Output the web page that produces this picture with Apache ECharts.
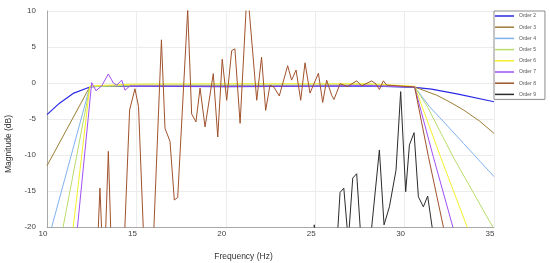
<!DOCTYPE html>
<html>
<head>
<meta charset="utf-8">
<script src="https://cdn.jsdelivr.net/npm/echarts@6/dist/echarts.min.js"></script>
<style>
html,body{margin:0;padding:0;background:#fff;}
#chart{width:550px;height:263px;}
</style>
</head>
<body>
<div id="chart"></div>
<script>
// Series names
const seriesNames = ['Order 2','Order 3','Order 4','Order 5','Order 6','Order 7','Order 8','Order 9'];
// Axis ticks
const xTicks = [10, 15, 20, 25, 30, 35];
const yTicks = [-20, -15, -10, -5, 0, 5, 10];

// [frequency (Hz), magnitude (dB)]
const order2 = [[10,-4.4],[10.7,-2.8],[11.5,-1.4],[12.4,-0.55],[13,-0.45],[15,-0.45],[20,-0.5],[25,-0.45],[28,-0.4],[30.56,-0.6],[31.5,-0.85],[33,-1.55],[35,-2.6]];
const order3 = [[10,-11.5],[12.4,-0.5],[15,-0.35],[20,-0.35],[25,-0.35],[28,-0.3],[30.56,-0.55],[31.8,-1.7],[32.5,-2.6],[33.3,-3.75],[34.2,-5.3],[35,-7.0]];
const order4 = [[10,-22.4],[12.4,-0.5],[15,-0.3],[20,-0.3],[25,-0.3],[28,-0.3],[30.56,-0.55],[31.4,-3.3],[32.3,-5.7],[33.3,-8.4],[35,-13]];
const order5 = [[10,-31.7],[12.4,-0.5],[15,-0.3],[20,-0.3],[25,-0.3],[28,-0.25],[30.56,-0.5],[31.3,-3.4],[32.7,-10.2],[35,-20.3]];
const order6 = [[10,-50.8],[12.4,-0.4],[15,-0.15],[20,-0.1],[25,-0.1],[28,-0.1],[30.56,-0.45],[32,-10.2],[33.5,-20],[34,-24]];
const order7 = [[10,-63],[12.5,0.05],[12.74,-1.07],[13.06,-0.4],[13.43,1.25],[13.71,0],[13.9,-0.3],[14.18,0.4],[14.36,-1.0],[14.64,-0.4],[15,-0.4],[20,-0.45],[25,-0.4],[28,-0.35],[30.56,-0.55],[31.6,-10.2],[32.7,-20],[33,-23]];
const order8 = [[10,-80],[12.5,-45],[12.74,-27.8],[12.96,-14.6],[13.18,-27.8],[13.43,-9.5],[13.66,-28],[13.95,-45],[14.62,-3.75],[14.92,-0.8],[15.12,-3.3],[15.39,-20.5],[15.65,-33],[15.9,-25],[16.4,6.0],[16.6,-6.3],[16.88,-8.1],[17.12,-16.25],[17.31,-15.9],[17.87,10.2],[18.09,-4.3],[18.33,-5.4],[18.56,-0.7],[18.84,-6.1],[19.3,1.3],[19.55,-7.5],[19.8,3.3],[20.05,-2.4],[20.33,4.5],[20.51,4.75],[20.8,-5.6],[21.2,13.3],[21.73,-2.4],[22.0,3.6],[22.23,-3.8],[22.47,-0.3],[22.7,-0.6],[22.99,-1.8],[23.46,2.4],[23.68,0.4],[23.93,1.8],[24.19,-2.4],[24.43,2.8],[24.71,-1.4],[25.18,1.35],[25.42,-2.7],[25.64,0.4],[25.92,-1.7],[26.05,-2.3],[26.39,-0.1],[26.8,-0.5],[27.32,0.3],[27.6,-0.4],[28.16,0.3],[28.4,-0.15],[28.59,-0.9],[28.81,0.3],[29.0,-0.3],[30.56,-0.55],[31.33,-10.2],[32.17,-20],[32.5,-24]];
const order9 = [[10,-80],[24.7,-35],[24.95,-19.7],[25.2,-35],[26.1,-27],[26.39,-15.2],[26.6,-14.6],[26.85,-22],[27.1,-13.2],[27.32,-12.6],[27.54,-21],[27.8,-30],[28.0,-24],[28.59,-9.3],[28.85,-19.7],[29.15,-17.2],[29.52,-12.1],[29.78,-1.2],[30.06,-15.1],[30.27,-8.6],[30.53,-6.9],[30.77,-15.8],[31.05,-17.2],[31.29,-15.7],[31.55,-20.2],[32,-40],[35,-90]];

const seriesData = [order2, order3, order4, order5, order6, order7, order8, order9];
const colors = ['#2a2ae6','#9c7d35','#80b2f0','#b8dc6a','#f2f02a','#a050f5','#a0522d','#2b2b2b'];

const chart = echarts.init(document.getElementById('chart'), null, {renderer:'canvas'});
const font = 'Liberation Sans, Arial, sans-serif';
chart.setOption({
  animation: false,
  backgroundColor: '#ffffff',
  color: colors,
  grid: {left: 47, right: 56, top: 11, bottom: 36, containLabel: false, outerBoundsMode: 'none'},
  legend: {
    data: seriesNames,
    orient: 'vertical',
    left: 494, top: 11,
    icon: 'rect',
    itemWidth: 19, itemHeight: 1.5,
    itemGap: 5.2,
    itemTextGap: 2,
    padding: [2, 9, 2, 1],
    backgroundColor: '#ffffff',
    borderColor: '#8c8c8c', borderWidth: 1, borderRadius: 0,
    textStyle: {fontSize: 5, lineHeight: 6, color: '#555', fontFamily: font}
  },
  xAxis: {
    type: 'value', min: 10, max: 35, interval: 5,
    name: 'Frequency (Hz)', nameLocation: 'middle', nameGap: 25,
    nameTextStyle: {fontSize: 8.5, color: '#333', fontFamily: font, padding: [0, 54, 0, 0]},
    axisLine: {show: true, onZero: false, lineStyle: {color: '#a8a8a8', width: 1}},
    axisTick: {show: false},
    axisLabel: {fontSize: 8, color: '#444', fontFamily: font, margin: 3, padding: [0, 8, 0, 0]},
    splitLine: {show: true, lineStyle: {color: '#ececec', width: 1}}
  },
  yAxis: {
    type: 'value', min: -20, max: 10, interval: 5,
    name: 'Magnitude (dB)', nameLocation: 'middle', nameGap: 34, nameRotate: 90,
    nameTextStyle: {fontSize: 8.5, color: '#333', fontFamily: font, padding: [0, 50, 0, 0]},
    axisLine: {show: true, onZero: false, lineStyle: {color: '#a8a8a8', width: 1}},
    axisTick: {show: false},
    axisLabel: {fontSize: 8, color: '#444', fontFamily: font, margin: 11, padding: [0, 0, 8, 0]},
    splitLine: {show: true, lineStyle: {color: '#ececec', width: 1}}
  },
  series: seriesNames.map((n, i) => ({
    name: n, type: 'line', data: seriesData[i],
    symbol: 'none', showSymbol: false, clip: true,
    lineStyle: {width: i === 0 ? 1.2 : 1, color: colors[i]},
    itemStyle: {color: colors[i]},
    z: 2 + i
  }))
});
</script>
</body>
</html>
